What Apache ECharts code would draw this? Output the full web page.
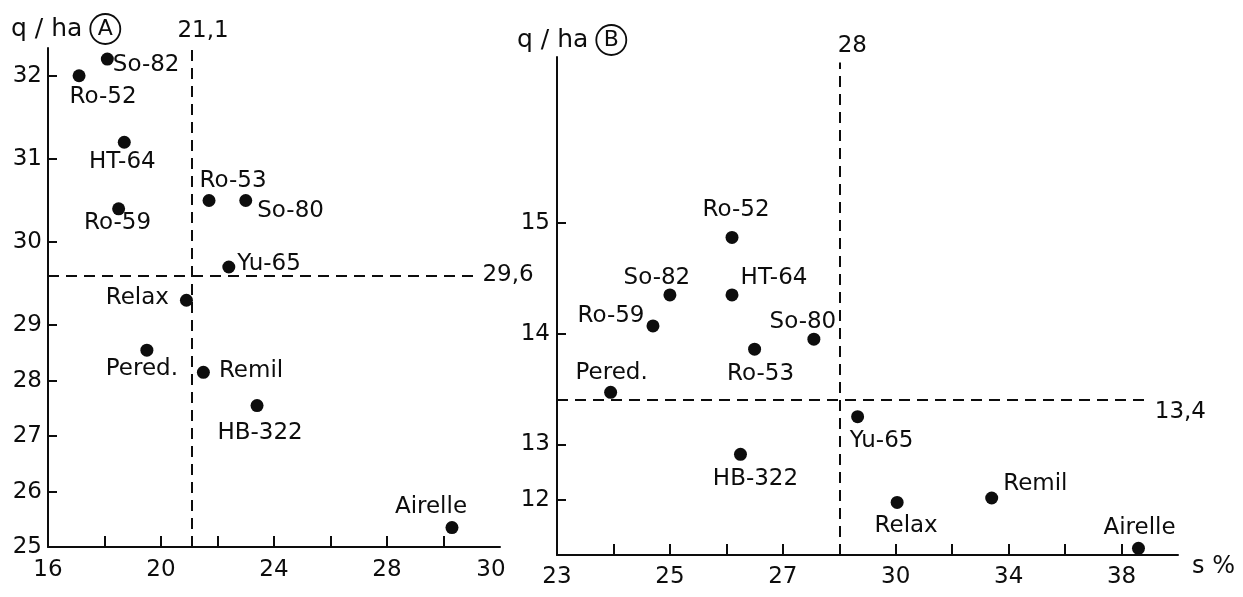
<!DOCTYPE html>
<html>
<head>
<meta charset="utf-8">
<style>
  html, body { margin: 0; padding: 0; background: #fff; }
  #chart { width: 1243px; height: 597px; }
</style>
<script src="https://cdn.jsdelivr.net/npm/echarts@6/dist/echarts.min.js"></script>
</head>
<body>
<div id="chart"></div>
<script>
  // panel A : yield (q/ha) against dry matter (s %)
  var varietiesA = ['So-82', 'Ro-52', 'HT-64', 'Ro-59', 'Ro-53', 'So-80', 'Yu-65', 'Relax', 'Pered.', 'Remil', 'HB-322', 'Airelle'];
  var dryMatterA = [18.1, 17.1, 18.7, 18.5, 21.7, 23.0, 22.4, 20.9, 19.5, 21.5, 23.4, 30.3];
  var yieldA = [32.2, 32.0, 31.2, 30.4, 30.5, 30.5, 29.7, 29.3, 28.55, 28.15, 27.55, 25.35];
  var meanA = [21.1, 29.6];
  var xLabelsA = [16, 20, 24, 28];
  var xTicksA = [18, 20, 22, 24, 26, 28, 30];
  var yTicksA = [25, 26, 27, 28, 29, 30, 31, 32];

  // panel B
  var varietiesB = ['Ro-52', 'So-82', 'HT-64', 'Ro-59', 'So-80', 'Ro-53', 'Pered.', 'Yu-65', 'HB-322', 'Relax', 'Remil', 'Airelle'];
  var dryMatterB = [26.1, 25.0, 26.1, 24.7, 27.55, 26.5, 23.95, 28.65, 26.25, 30.05, 33.4, 38.6];
  var yieldB = [14.87, 14.35, 14.35, 14.07, 13.95, 13.86, 13.47, 13.25, 12.82, 11.95, 12.03, 11.12];
  var meanB = [28, 13.4];
  var xLabelsB = [23, 25, 27, 30, 34, 38];
  var xTicksB = [24, 25, 26, 27, 28, 30, 32, 34, 36, 38];
  var yTicksB = [12, 13, 14, 15];

  // the printed axes change their scale at one value, so draw on a stretched linear axis
  function brk (at, k) {
    return {
      to: function (v) { return v <= at ? v : at + (v - at) * k },
      from: function (u) { return u <= at ? u : at + (u - at) / k }
    }
  }
  var fxA = brk(1000, 1), fyA = brk(29, 1.5);
  var fxB = brk(28, 0.5), fyB = brk(13, 2);

  // where each name sits around its dot
  var placeA = {
    'So-82': ['right', [-6, 6]], 'Ro-52': ['bottom', [24, -2]], 'HT-64': ['bottom', [-2, -3]],
    'Ro-59': ['bottom', [-1, -9]], 'Ro-53': ['top', [24, 4]], 'So-80': ['right', [0, 11]],
    'Yu-65': ['right', [-3, -3]], 'Relax': ['left', [-6, -2]], 'Pered.': ['bottom', [-5, -4]],
    'Remil': ['right', [4, -1]], 'HB-322': ['bottom', [3, 4]], 'Airelle': ['top', [-21, 2]]
  };
  var placeB = {
    'Ro-52': ['top', [4, -4]], 'So-82': ['top', [-13, 6]], 'HT-64': ['top', [42, 6]],
    'Ro-59': ['left', [3, -10]], 'So-80': ['top', [-11, 6]], 'Ro-53': ['bottom', [6, 2]],
    'Pered.': ['top', [1, 4]], 'Yu-65': ['bottom', [24, 1]], 'HB-322': ['bottom', [15, 2]],
    'Relax': ['bottom', [9, 1]], 'Remil': ['right', [0, -14]], 'Airelle': ['top', [1, 3]]
  };

  var ink = '#0d0d0d';
  var font = 'DejaVu Sans';

  function points (names, xs, ys, fx, fy, place) {
    return names.map(function (n, i) {
      return {
        name: n,
        value: [fx.to(xs[i]), fy.to(ys[i])],
        label: { position: place[n][0], offset: place[n][1] }
      }
    })
  }

  function axis (type, gi, min, max, f, ticks, labels, margin) {
    return {
      type: 'value',
      gridIndex: gi,
      min: min,
      max: max,
      axisLine: { show: true, onZero: false, lineStyle: { color: ink, width: 2 } },
      axisTick: { show: true, inside: true, length: type === 'x' ? 11 : 9, customValues: ticks.map(f.to), lineStyle: { color: ink, width: 2 } },
      axisLabel: {
        customValues: labels.map(f.to),
        margin: margin,
        color: ink,
        fontFamily: font,
        fontSize: 23,
        formatter: function (u) { return String(Math.round(f.from(u) * 10) / 10) }
      },
      splitLine: { show: false }
    }
  }

  var dash = { color: ink, width: 2, type: [11, 7] };

  function meanLines (mean, fx, fy, xEnd, yTop, xMin, yMin, texts, pads, hAlign) {
    return {
      silent: true,
      symbol: ['none', 'none'],
      lineStyle: dash,
      label: { show: true, position: 'end', color: ink, fontFamily: font, fontSize: 23 },
      data: [
        [{ coord: [fx.to(mean[0]), yMin], label: { formatter: texts[0], padding: pads[0] } }, { coord: [fx.to(mean[0]), yTop] }],
        [{ coord: [xMin, fy.to(mean[1])], label: { formatter: texts[1], padding: pads[1], verticalAlign: hAlign } }, { coord: [fx.to(xEnd), fy.to(mean[1])] }]
      ]
    }
  }

  var titleStyle = function () {
    return {
      fontFamily: font, fontSize: 25, fontWeight: 'normal', color: ink,
      rich: {
        c: { fontFamily: font, fontSize: 22, color: ink, width: 28, height: 28, lineHeight: 28, align: 'center',
          borderColor: ink, borderWidth: 1.8, borderRadius: 16, padding: [1, 1, 1, 1] }
      }
    }
  };

  var pointLabel = { show: true, formatter: '{b}', color: ink, opacity: 1, fontFamily: font, fontSize: 23 };

  var chart = echarts.init(document.getElementById('chart'));
  chart.setOption({
    animation: false,
    backgroundColor: '#fff',
    title: [
      { text: 'q / ha {c|A}', left: 11, top: 15, padding: 0, textStyle: titleStyle() },
      { text: 'q / ha {c|B}', left: 517, top: 26, padding: 0, textStyle: titleStyle() }
    ],
    grid: [
      { left: 48, top: 48, width: 452, height: 499 },
      { left: 557, top: 57, width: 621, height: 498 }
    ],
    xAxis: [
      Object.assign(axis('x', 0, 16, 32, fxA, xTicksA, xLabelsA, 12), {
        name: '30', nameLocation: 'end', nameGap: -9,
        nameTextStyle: { color: ink, fontFamily: font, fontSize: 23, align: 'center', verticalAlign: 'top', padding: [12, 0, 0, 0] }
      }),
      Object.assign(axis('x', 1, 23, 34, fxB, xTicksB, xLabelsB, 11), {
        name: 's %', nameLocation: 'end', nameGap: 14,
        nameTextStyle: { color: ink, fontFamily: font, fontSize: 24, align: 'left', verticalAlign: 'top', padding: [0, 0, 0, 0] }
      })
    ],
    yAxis: [
      axis('y', 0, 25, 34, fyA, yTicksA, yTicksA, 6),
      axis('y', 1, 11, 20, fyB, yTicksB, yTicksB, 7)
    ],
    series: [
      {
        type: 'scatter',
        xAxisIndex: 0,
        yAxisIndex: 0,
        symbolSize: 13,
        itemStyle: { color: ink, opacity: 1 },
        label: pointLabel,
        data: points(varietiesA, dryMatterA, yieldA, fxA, fyA, placeA),
        markLine: meanLines(meanA, fxA, fyA, 31.2, 34, 16, 25, ['21,1', '29,6'], [[0, 0, 0, 22], [0, 0, 0, 0]], 'middle')
      },
      {
        type: 'scatter',
        xAxisIndex: 1,
        yAxisIndex: 1,
        symbolSize: 13,
        itemStyle: { color: ink, opacity: 1 },
        label: pointLabel,
        data: points(varietiesB, dryMatterB, yieldB, fxB, fyB, placeB),
        markLine: meanLines(meanB, fxB, fyB, 39.0, 19.9, 23, 11, ['28', '13,4'], [[0, 0, 0, 26], [0, 0, 0, 0]], 'top')
      }
    ]
  });
</script>
</body>
</html>
